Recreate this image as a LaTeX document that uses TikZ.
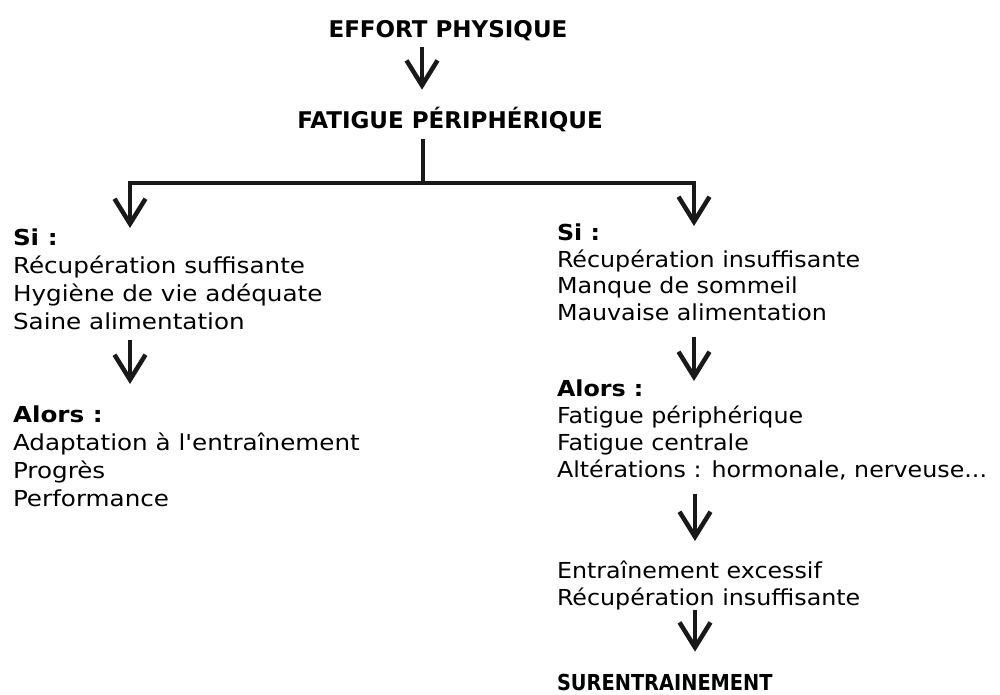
\documentclass[tikz,border=0pt]{standalone}
\usepackage{fontspec}
\newfontfamily\bodyfont{DejaVu Sans}[FakeStretch=1.12]
\newfontfamily\bodyfontR{DejaVu Sans}[FakeStretch=1.08]
\newfontfamily\ttlfont{DejaVu Sans}
\newfontfamily\surfont{DejaVu Sans}[FakeStretch=0.88]
\usetikzlibrary{arrows.meta}
\begin{document}
\begin{tikzpicture}[x=1pt,y=-1pt,
  txt/.style={inner sep=0pt,outer sep=0pt,align=left,anchor=north west,
    font=\bodyfont\fontsize{22}{28}\selectfont},
  txtR/.style={txt,font=\bodyfontR\fontsize{22}{#1}\selectfont},
  ttl/.style={inner sep=0pt,outer sep=0pt,anchor=base,
    font=\ttlfont\fontsize{23}{28}\selectfont\bfseries},
  bar/.style={line width=4.5pt,black!90},
  arr/.style={line width=4.5pt,black!90,
    -{Straight Barb[length=25pt,width=31pt,line width=4.5pt]}}]
  \useasboundingbox[fill=white] (0,0) rectangle (1000,694);

  % column positions of the vertical arrows
  \coordinate (colL) at (130,0);
  \coordinate (colR) at (694,0);
  \coordinate (bus) at (423,183);

  \node[ttl] (effort) at (448,37) {EFFORT PHYSIQUE};
  \node[ttl] (fatigue) at (450,128) {FATIGUE PÉRIPHÉRIQUE};

  \node[txt] (siL) at (13,229) {\textbf{Si :}\\Récupération suffisante\\Hygiène de vie adéquate\\Saine alimentation};
  \node[txt] (alorsL) at (13,406) {\textbf{Alors :}\\Adaptation à l'entraînement\\Progrès\\Performance};

  \node[txtR=26.5] (siR) at (557,224) {\textbf{Si :}\\Récupération insuffisante\\Manque de sommeil\\Mauvaise alimentation};
  \node[txtR=27] (alorsR) at (557,380) {\textbf{Alors :}\\Fatigue périphérique\\Fatigue centrale\\Altérations : hormonale, nerveuse...};
  \node[txtR=27] (excesR) at (557,561) {Entraînement excessif\\Récupération insuffisante};
  \node[ttl,anchor=base west,font=\surfont\fontsize{22}{24}\selectfont\bfseries] (surR) at (557,690) {SURENTRAINEMENT};

  % connectors
  \draw[arr,shorten <=10pt,shorten >=17pt] (effort.base) ++(-26,0) coordinate (e0) (e0) -- (e0 |- fatigue.north);
  \draw[bar] (fatigue.south -| bus) ++(0,8) -- (bus);
  \draw[arr,shorten >=1pt] (bus) -| (siL.north -| colL);
  \draw[arr,shorten >=-2pt] (bus) -| (siR.north -| colR);
  \draw[arr,shorten <=10pt,shorten >=22pt] (siL.south -| colL) -- (alorsL.north -| colL);
  \draw[arr,shorten <=16pt,shorten >=-1pt] (siR.south -| colR) -- (alorsR.north -| colR);
  \draw[arr,shorten <=14pt,shorten >=20pt] (alorsR.south -| colR) ++(1,0) coordinate (r2) (r2) -- (r2 |- excesR.north);
  \draw[arr,shorten <=0pt,shorten >=22pt] (excesR.south -| colR) ++(1,0) coordinate (r3) (r3) -- (r3 |- surR.north);
\end{tikzpicture}
\end{document}
